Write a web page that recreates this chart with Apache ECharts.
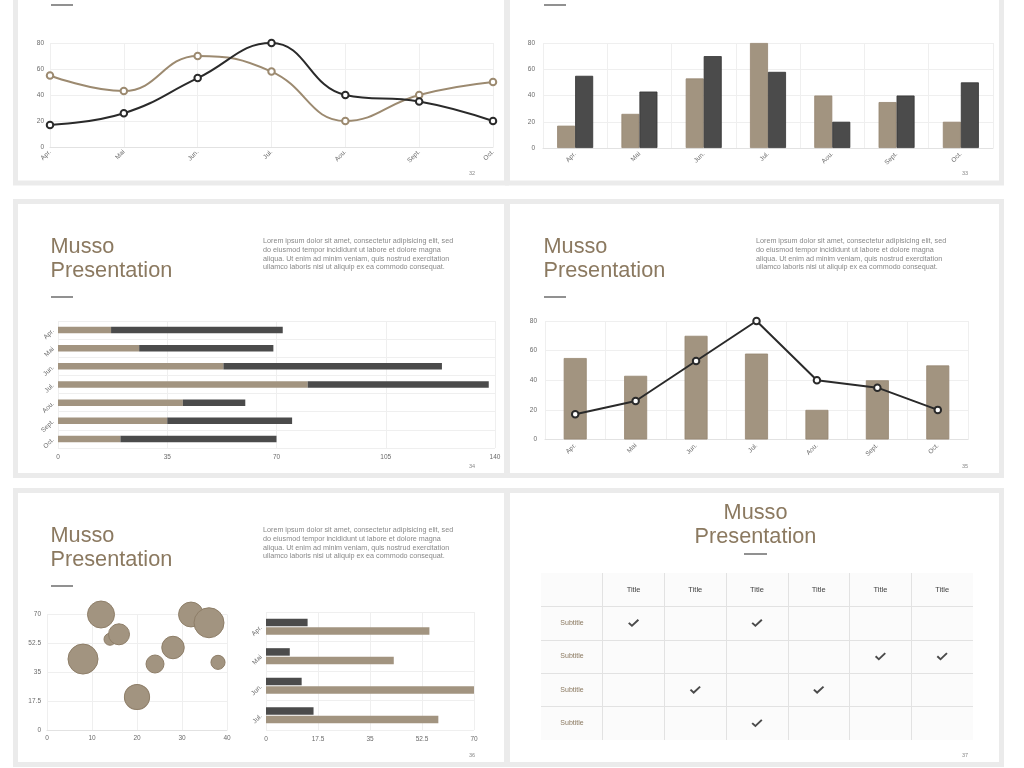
<!DOCTYPE html>
<html>
<head>
<meta charset="utf-8">
<script src="https://cdn.jsdelivr.net/npm/echarts@6/dist/echarts.min.js"></script>
<style>
html,body{margin:0;padding:0;background:#fff;}
#c{width:1024px;height:768px;}
</style>
</head>
<body>
<div id="c"></div>
<script>
// ---------- DATA ----------
const months = ['Apr.', 'Mai', 'Jun.', 'Jul.', 'Aou.', 'Sept.', 'Oct.'];
const seriesA = [55, 43, 70, 58, 20, 40, 50];
const seriesB = [17, 26, 53, 80, 40, 35, 20];
const shortMonths = ['Apr.', 'Mai', 'Jun.', 'Jul.'];
const shortDark = [14, 8, 12, 16];
const shortTan = [55, 43, 70, 58];
const bubbleX = [14, 12, 16, 8, 24, 28, 32, 36, 38, 20];
const bubbleY = [55, 70, 58, 43, 40, 50, 70, 65, 41, 20];
const bubbleSize = [4, 9, 7, 10, 6, 7.5, 8.3, 10, 4.7, 8.4];
const colTitles = ['Title', 'Title', 'Title', 'Title', 'Title', 'Title'];
const rowSubtitles = ['Subtitle', 'Subtitle', 'Subtitle', 'Subtitle'];
const checkRows = [1, 1, 2, 2, 3, 3, 4];
const checkCols = [1, 3, 5, 6, 2, 4, 3];
const pageNumbers = ['32', '33', '34', '35', '36', '37'];
const titleLines = ['Musso', 'Presentation'];
const loremLines = [
  'Lorem ipsum dolor sit amet, consectetur adipisicing elit, sed',
  'do eiusmod tempor incididunt ut labore et dolore magna',
  'aliqua. Ut enim ad minim veniam, quis nostrud exercitation',
  'ullamco laboris nisi ut aliquip ex ea commodo consequat.'
];

// ---------- STYLES ----------
const TAN = '#a29480', TAN_LINE = '#9c8a70', DARK = '#4b4b4b', LINE_DARK = '#2a2a2a';
const TITLE_C = '#8b7960', FONT = 'Liberation Sans, Arial, sans-serif';
const lbl = {color: '#6a6a6a', fontSize: 6.5, fontFamily: FONT};
const split = {show: true, lineStyle: {color: '#efefef', width: 1}};
const axLine = {show: true, lineStyle: {color: '#e2e2e2'}};
const noTick = {show: false};

const chart = echarts.init(document.getElementById('c'), null, {renderer: 'canvas'});

// ---------- GRAPHICS (frames, titles, text) ----------
const g = [];
function frame(x1, y1, x2, y2) {
  g.push({type: 'rect', shape: {x: x1, y: y1, width: x2 - x1, height: y2 - y1},
    style: {fill: 'none', stroke: '#ebebeb', lineWidth: 5}, z: 1, silent: true});
}
frame(15.5, -20, 506.5, 183);
frame(507.5, -20, 1001.5, 183);
frame(15.5, 201.5, 506.5, 475.5);
frame(507.5, 201.5, 1001.5, 475.5);
frame(15.5, 490.5, 506.5, 764.5);
frame(507.5, 490.5, 1001.5, 764.5);

function dash(x, y, w) {
  g.push({type: 'line', shape: {x1: x, y1: y, x2: x + w, y2: y},
    style: {stroke: '#555', lineWidth: 1.3}, z: 10, silent: true});
}
dash(51, 5, 22); dash(544, 5, 22); dash(51, 297, 22); dash(544, 297, 22); dash(51, 586, 22); dash(744, 554, 23);

function title(x, y, align) {
  titleLines.forEach((t, i) => {
    g.push({type: 'text', x: x, y: y + i * 23.5, z: 10, silent: true,
      style: {text: t, fill: TITLE_C, font: '21.7px ' + FONT, align: align || 'left', verticalAlign: 'middle'}});
  });
}
title(50.5, 247.5); title(543.5, 247.5); title(50.5, 536.5); title(755.5, 513.5, 'center');

function lorem(x, y) {
  loremLines.forEach((t, i) => {
    g.push({type: 'text', x: x, y: y + i * 8.8, z: 10, silent: true,
      style: {text: t, fill: '#888', font: '7.2px ' + FONT, align: 'left', verticalAlign: 'middle'}});
  });
}
lorem(263, 241); lorem(756, 241); lorem(263, 530);

const pagePos = [[472, 173], [965, 173], [472, 466], [965, 466], [472, 755], [965, 755]];
pageNumbers.forEach((p, i) => {
  g.push({type: 'text', x: pagePos[i][0], y: pagePos[i][1], z: 10, silent: true,
    style: {text: p, fill: '#888', font: '5.5px ' + FONT, align: 'center', verticalAlign: 'middle'}});
});

// ---------- GRIDS ----------
const grids = [
  {left: 50, top: 43, width: 443, height: 104},
  {left: 543, top: 43, width: 450, height: 105},
  {left: 58, top: 321, width: 437, height: 127},
  {left: 545, top: 321, width: 423, height: 118.5},
  {left: 47, top: 614.5, width: 180, height: 115.5},
  {left: 266, top: 612, width: 208, height: 118},
  {left: 541, top: 573, width: 432, height: 167, show: true, backgroundColor: '#fbfbfb', borderWidth: 0}
];

const xAxes = [
  {gridIndex: 0, type: 'category', data: months, boundaryGap: false, axisLine: axLine, axisTick: noTick,
    axisLabel: Object.assign({rotate: 45, margin: 4, interval: 0}, lbl), splitLine: Object.assign({interval: 0}, split)},
  {gridIndex: 1, type: 'category', data: months, axisLine: axLine, axisTick: noTick,
    axisLabel: Object.assign({rotate: 45, margin: 5, interval: 0}, lbl), splitLine: Object.assign({interval: 0}, split)},
  {gridIndex: 2, type: 'value', min: 0, max: 140, interval: 35, axisLine: {show: false}, axisTick: noTick,
    axisLabel: Object.assign({margin: 6}, lbl), splitLine: split},
  {gridIndex: 3, type: 'category', data: months, axisLine: axLine, axisTick: noTick,
    axisLabel: Object.assign({rotate: 45, margin: 5, interval: 0}, lbl), splitLine: Object.assign({interval: 0}, split)},
  {gridIndex: 4, type: 'value', min: 0, max: 40, interval: 10, axisLine: axLine, axisTick: noTick,
    axisLabel: Object.assign({margin: 5}, lbl), splitLine: split},
  {gridIndex: 5, type: 'value', min: 0, max: 70, interval: 17.5, axisLine: {show: false}, axisTick: noTick,
    axisLabel: Object.assign({margin: 6}, lbl), splitLine: split},
  {gridIndex: 6, type: 'category', position: 'top', data: [''].concat(colTitles), axisLine: {show: false}, axisTick: noTick,
    axisLabel: {inside: true, margin: 17, interval: 0, verticalAlign: 'middle', color: '#444', fontSize: 7.5, fontFamily: FONT},
    splitLine: {show: true, interval: 0, showMinLine: false, showMaxLine: false, lineStyle: {color: '#e2e2e2'}}}
];

const yAxes = [
  {gridIndex: 0, type: 'value', min: 0, max: 80, interval: 20, axisLine: {show: false}, axisTick: noTick,
    axisLabel: Object.assign({margin: 6}, lbl), splitLine: split},
  {gridIndex: 1, type: 'value', min: 0, max: 80, interval: 20, axisLine: {show: false}, axisTick: noTick,
    axisLabel: Object.assign({margin: 8}, lbl), splitLine: split},
  {gridIndex: 2, type: 'category', data: months, inverse: true, axisLine: {show: false}, axisTick: noTick,
    axisLabel: Object.assign({rotate: 45, margin: 5, interval: 0}, lbl), splitLine: Object.assign({interval: 0}, split)},
  {gridIndex: 3, type: 'value', min: 0, max: 80, interval: 20, axisLine: {show: false}, axisTick: noTick,
    axisLabel: Object.assign({margin: 8}, lbl), splitLine: split},
  {gridIndex: 4, type: 'value', min: 0, max: 70, interval: 17.5, axisLine: {show: false}, axisTick: noTick,
    axisLabel: Object.assign({margin: 6}, lbl), splitLine: split},
  {gridIndex: 5, type: 'category', data: shortMonths, inverse: true, axisLine: {show: false}, axisTick: noTick,
    axisLabel: Object.assign({rotate: 45, margin: 5, interval: 0}, lbl), splitLine: Object.assign({interval: 0}, split)},
  {gridIndex: 6, type: 'category', data: [''].concat(rowSubtitles), inverse: true, axisLine: {show: false}, axisTick: noTick,
    axisLabel: {inside: true, margin: 31, interval: 0, align: 'center', color: TITLE_C, fontSize: 7, fontFamily: FONT},
    splitLine: {show: true, interval: 0, showMinLine: false, showMaxLine: false, lineStyle: {color: '#e2e2e2'}}}
];

const checkPath = 'path://M0,5.5 L1.6,3.9 L4.6,6.8 L11.4,0 L13,1.6 L4.6,10 Z';

const series = [
  // chart 1: smooth lines
  {type: 'line', xAxisIndex: 0, yAxisIndex: 0, data: seriesA, smooth: 0.45, symbol: 'emptyCircle', symbolSize: 6.5,
    lineStyle: {color: TAN_LINE, width: 2}, itemStyle: {color: TAN_LINE, borderWidth: 2}},
  {type: 'line', xAxisIndex: 0, yAxisIndex: 0, data: seriesB, smooth: 0.45, symbol: 'emptyCircle', symbolSize: 6.5,
    lineStyle: {color: LINE_DARK, width: 2}, itemStyle: {color: LINE_DARK, borderWidth: 2}},
  // chart 2: grouped bars
  {type: 'bar', xAxisIndex: 1, yAxisIndex: 1, data: seriesB, barWidth: 18, barGap: '0%',
    itemStyle: {color: TAN, borderColor: '#978771', borderWidth: 0.8}},
  {type: 'bar', xAxisIndex: 1, yAxisIndex: 1, data: seriesA, barWidth: 18, barGap: '0%',
    itemStyle: {color: DARK, borderColor: '#333', borderWidth: 0.8}},
  // chart 3: stacked horizontal bars
  {type: 'bar', xAxisIndex: 2, yAxisIndex: 2, data: seriesB, stack: 's3', barWidth: 6.5,
    itemStyle: {color: TAN}},
  {type: 'bar', xAxisIndex: 2, yAxisIndex: 2, data: seriesA, stack: 's3', barWidth: 6.5,
    itemStyle: {color: DARK}},
  // chart 4: bars + line
  {type: 'bar', xAxisIndex: 3, yAxisIndex: 3, data: seriesA, barWidth: 23,
    itemStyle: {color: TAN, borderColor: '#978771', borderWidth: 0.8}},
  {type: 'line', xAxisIndex: 3, yAxisIndex: 3, data: seriesB, symbol: 'emptyCircle', symbolSize: 6.5,
    lineStyle: {color: LINE_DARK, width: 2}, itemStyle: {color: LINE_DARK, borderWidth: 2}, z: 5},
  // chart 5a: bubbles
  {type: 'scatter', xAxisIndex: 4, yAxisIndex: 4,
    data: bubbleX.map((x, i) => [x, bubbleY[i], bubbleSize[i]]),
    symbolSize: v => v[2] * 3,
    itemStyle: {color: TAN, borderColor: '#8e7e68', borderWidth: 1, opacity: 1}},
  // chart 5b: grouped horizontal bars
  {type: 'bar', xAxisIndex: 5, yAxisIndex: 5, data: shortDark, barWidth: 7.5, barGap: '15%',
    itemStyle: {color: DARK}},
  {type: 'bar', xAxisIndex: 5, yAxisIndex: 5, data: shortTan, barWidth: 7.5, barGap: '15%',
    itemStyle: {color: TAN}},
  // table checks
  {type: 'scatter', xAxisIndex: 6, yAxisIndex: 6,
    data: checkCols.map((c, i) => [c, checkRows[i]]),
    symbol: checkPath, symbolSize: [11, 8], itemStyle: {color: '#1e1e1e'}}
];

chart.setOption({
  backgroundColor: '#ffffff',
  animation: false,
  textStyle: {fontFamily: FONT},
  grid: grids,
  xAxis: xAxes,
  yAxis: yAxes,
  series: series,
  graphic: {elements: g}
});
</script>
</body>
</html>
